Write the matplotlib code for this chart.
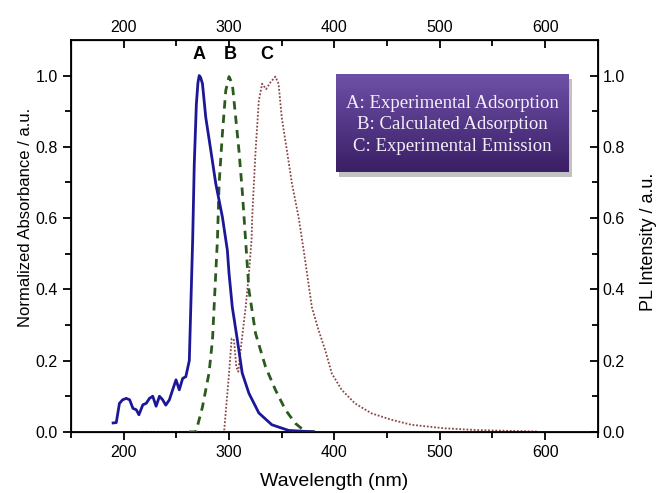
import numpy as np
import matplotlib.pyplot as plt
from matplotlib.patches import Rectangle

# A: experimental absorption (normalized)
wl_a = [190, 193, 196, 199, 202.5, 205.7, 208.8, 212, 214.5, 218.2, 221.4, 224.5, 227.6,
        230.8, 234, 237, 240, 243.4, 246.5, 249.7, 252.8, 256, 259, 262.3, 263.9, 265.5,
        267, 269, 270.5, 271.7, 273, 274.8, 277.9, 282.7, 287.4, 293.7, 298.4, 300, 303.1,
        307.8, 312.5, 318.9, 328.3, 340.6, 356.6, 380]
abs_a = [0.025, 0.026, 0.08, 0.09, 0.094, 0.09, 0.066, 0.062, 0.048, 0.076, 0.08, 0.094, 0.1,
         0.072, 0.1, 0.09, 0.075, 0.09, 0.118, 0.146, 0.118, 0.15, 0.155, 0.2, 0.37, 0.54,
         0.75, 0.92, 0.98, 1.0, 0.995, 0.977, 0.883, 0.79, 0.697, 0.603, 0.51, 0.445, 0.35,
         0.26, 0.165, 0.108, 0.053, 0.02, 0.004, 0.0]

# B: calculated absorption
wl_b = [262, 268.6, 274.8, 281, 284.3, 287.4, 289, 290.6, 293.7, 296.9, 300, 303.1, 306.3,
        309.4, 312.5, 315.8, 318.9, 325.2, 334.6, 344, 353.5, 362.9, 372.3, 385]
abs_b = [0.0, 0.0, 0.07, 0.165, 0.258, 0.445, 0.54, 0.697, 0.837, 0.958, 0.997, 0.977, 0.883,
         0.79, 0.678, 0.535, 0.398, 0.276, 0.183, 0.118, 0.062, 0.024, 0.001, 0.0]

# C: experimental emission
wl_c = [218, 295.3, 300, 302.5, 304.7, 306.9, 308.8, 311, 315.8, 318.9, 321.4, 322, 325.2,
        328.3, 331.4, 335.2, 339.3, 344, 347, 350, 354.9, 359.7, 366, 370.8, 372.3, 378.6,
        384.9, 391.2, 397.5, 406.9, 419.5, 435.2, 454, 472.9, 504.4, 535.8, 592.5]
pl_c = [0.0, 0.0, 0.164, 0.262, 0.258, 0.183, 0.169, 0.23, 0.35, 0.445, 0.54, 0.603, 0.79,
        0.93, 0.977, 0.962, 0.981, 0.997, 0.977, 0.883, 0.79, 0.697, 0.603, 0.51, 0.48, 0.35,
        0.286, 0.23, 0.164, 0.118, 0.08, 0.052, 0.034, 0.02, 0.01, 0.005, 0.001]

peak_labels = ['A', 'B', 'C']
peak_pos = [271.5, 301, 336]
legend_lines = ['A: Experimental Adsorption', 'B: Calculated Adsorption',
                'C: Experimental Emission']

plt.rcParams['font.family'] = ['Liberation Sans', 'DejaVu Sans']

fig = plt.figure(figsize=(6.57, 4.93), dpi=100)
ax = fig.add_axes([0.108, 0.124, 0.802, 0.795])

ax.plot(wl_a, abs_a, color='#1c1796', lw=2.0, zorder=4)
ax.plot(wl_b, abs_b, color='#2b5a1e', lw=2.0, ls=(0, (3, 2.2)), zorder=3)
ax.plot(wl_c, pl_c, color='#8a4848', lw=1.3, ls=(0, (1, 1)), zorder=2)

for lab, x in zip(peak_labels, peak_pos):
    ax.text(x, 1.035, lab, ha='center', va='bottom', fontsize=13, fontweight='bold')

ax.set_xlim(150, 650)
ax.set_ylim(0, 1.1)
ax.set_xticks([200, 300, 400, 500, 600])
ax.set_xticks(np.arange(150, 651, 50), minor=True)
ax.set_yticks([0.0, 0.2, 0.4, 0.6, 0.8, 1.0])
ax.set_yticks(np.arange(0, 1.05, 0.1), minor=True)
ax.yaxis.set_major_formatter(plt.FormatStrFormatter('%.1f'))
ax.tick_params(axis='both', which='major', direction='out', length=6, width=1.3, labelsize=11.5)
ax.tick_params(axis='both', which='minor', direction='out', length=4, width=1.3)
ax.set_xlabel('Wavelength (nm)', fontsize=14)
ax.xaxis.set_label_coords(0.5, -0.105)
ax.set_ylabel('Normalized Absorbance / a.u.', fontsize=12)
ax.yaxis.set_label_coords(-0.072, 0.548)
for s in ax.spines.values():
    s.set_linewidth(1.3)

# top axis mirrors wavelength
axt = ax.twiny()
axt.set_xlim(ax.get_xlim())
axt.set_xticks([200, 300, 400, 500, 600])
axt.set_xticks(np.arange(150, 651, 50), minor=True)
axt.tick_params(which='major', direction='in', length=6, width=1.3, labelsize=11.5)
axt.tick_params(which='minor', direction='in', length=4, width=1.3)

# right axis for PL intensity
axr = ax.twinx()
axr.set_ylim(0, 1.1)
axr.set_yticks([0.0, 0.2, 0.4, 0.6, 0.8, 1.0])
axr.set_yticks(np.arange(0, 1.05, 0.1), minor=True)
axr.yaxis.set_major_formatter(plt.FormatStrFormatter('%.1f'))
axr.tick_params(which='major', direction='in', length=6, width=1.3, labelsize=11.5)
axr.tick_params(which='minor', direction='in', length=4, width=1.3)
axr.set_ylabel('PL Intensity / a.u.', fontsize=13)
axr.yaxis.set_label_coords(1.08, 0.485)

# purple gradient legend box
x0, x1, y0, y1 = 0.503, 0.945, 0.663, 0.913
axr.add_patch(Rectangle((x0 + 0.006, y0 - 0.012), x1 - x0, y1 - y0, transform=ax.transAxes,
                        facecolor='#9a9a9a', edgecolor='none', alpha=0.6, zorder=5))
grad = np.linspace(0, 1, 100).reshape(-1, 1)
top = np.array([0x6e, 0x50, 0xa6]) / 255
bot = np.array([0x3a, 0x1f, 0x66]) / 255
img = top[None, None, :] * (1 - grad[:, :, None]) + bot[None, None, :] * grad[:, :, None]
axr.imshow(img, extent=(x0, x1, y0, y1), origin='upper', transform=ax.transAxes,
           aspect='auto', zorder=6)
axr.set_xlim(150, 650)
axr.set_ylim(0, 1.1)
for i, line in enumerate(legend_lines):
    axr.text((x0 + x1) / 2, 0.839 - i * 0.056, line, transform=ax.transAxes, ha='center',
             va='center', fontsize=13.5, color='#f4f0fa', family=['Liberation Serif'], zorder=7)

fig.savefig('out.png', dpi=100)
